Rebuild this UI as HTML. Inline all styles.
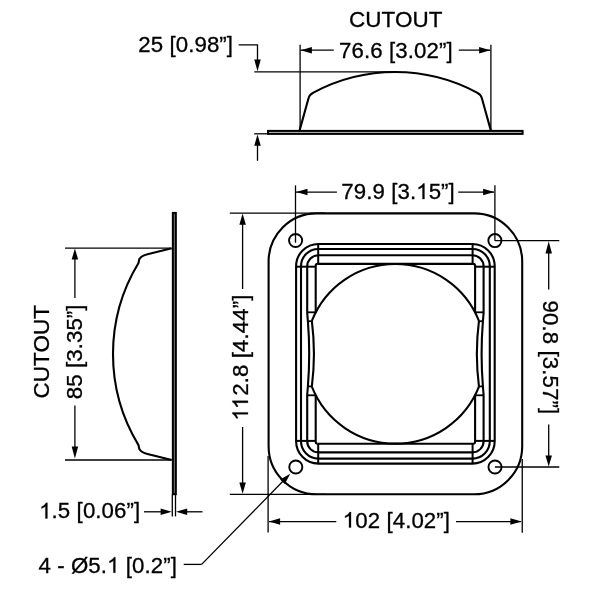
<!DOCTYPE html>
<html><head><meta charset="utf-8"><title>Dimension drawing</title>
<style>
html,body{margin:0;padding:0;background:#fff;}
body{width:600px;height:600px;overflow:hidden;}
svg{display:block;will-change:transform;filter:grayscale(1);}
tspan.h{fill:none;stroke:none;}
text{font-family:"Liberation Sans",sans-serif;fill:#000;letter-spacing:0.1px;stroke:#000;stroke-width:0.3px;}
</style></head><body>
<svg width="600" height="600" viewBox="0 0 600 600">
<rect width="600" height="600" fill="#fff"/>
<rect x="268.0" y="130.9" width="254.60" height="3.0" fill="#bbb" stroke="#000" stroke-width="2.0"/>
<path d="M299.60,130.4 L308.60,98 Q309.20,95 313.40,92.60 A172.7,172.7 0 0 1 477.00,92.60 Q481.20,95 481.80,98 L490.80,130.4" fill="none" stroke="#000" stroke-width="2.1" stroke-linejoin="round" stroke-linecap="butt"/>
<line x1="300.10" y1="44.80" x2="300.10" y2="130.00" stroke="#000" stroke-width="1.3" stroke-linecap="butt"/>
<line x1="490.90" y1="44.80" x2="490.90" y2="130.00" stroke="#000" stroke-width="1.3" stroke-linecap="butt"/>
<line x1="254.30" y1="71.80" x2="398.00" y2="71.80" stroke="#000" stroke-width="1.3" stroke-linecap="butt"/>
<line x1="254.20" y1="133.80" x2="267.50" y2="133.80" stroke="#000" stroke-width="1.3" stroke-linecap="butt"/>
<line x1="300.50" y1="50.20" x2="333.80" y2="50.20" stroke="#000" stroke-width="1.3" stroke-linecap="butt"/>
<polygon points="300.70,50.20 311.90,46.95 311.90,53.45" fill="#000"/>
<line x1="458.80" y1="50.20" x2="490.40" y2="50.20" stroke="#000" stroke-width="1.3" stroke-linecap="butt"/>
<polygon points="490.30,50.20 479.10,53.45 479.10,46.95" fill="#000"/>
<path d="M238.7,44.9 L257.5,44.9 L257.5,62" fill="none" stroke="#000" stroke-width="1.3" stroke-linejoin="miter" stroke-linecap="butt"/>
<polygon points="257.50,71.20 254.25,59.60 260.75,59.60" fill="#000"/>
<line x1="257.50" y1="160.80" x2="257.50" y2="144.00" stroke="#000" stroke-width="1.3" stroke-linecap="butt"/>
<polygon points="257.50,134.50 260.75,145.70 254.25,145.70" fill="#000"/>
<g transform="translate(349.00 27.40) scale(1.02 1)"><text id="t0" font-size="22.0">CUTOUT</text></g>
<g transform="translate(339.10 57.90) scale(1.03 1)"><text id="t1" font-size="21.6">76.6 [3.02”]</text></g>
<g transform="translate(138.20 52.30) scale(1.03 1)"><text id="t2" font-size="21.6">25 [0.98”]</text></g>
<rect x="172.85" y="212.9" width="3.0" height="281.30" fill="#777" stroke="#000" stroke-width="2.0"/>
<path d="M171.8,248.15 L147.5,254.15 Q141.3,255.75 139.3,259.15 L138.5,262.95 A175.48,175.48 0 0 0 138.5,445.15 L139.3,448.95 Q141.3,452.35 147.5,453.95 L171.8,459.95" fill="none" stroke="#000" stroke-width="2.1" stroke-linejoin="round" stroke-linecap="butt"/>
<line x1="65.00" y1="248.10" x2="170.70" y2="248.10" stroke="#000" stroke-width="1.3" stroke-linecap="butt"/>
<line x1="65.00" y1="460.00" x2="170.70" y2="460.00" stroke="#000" stroke-width="1.3" stroke-linecap="butt"/>
<line x1="74.90" y1="298.00" x2="74.90" y2="258.00" stroke="#000" stroke-width="1.3" stroke-linecap="butt"/>
<polygon points="74.90,248.40 78.15,259.60 71.65,259.60" fill="#000"/>
<line x1="74.90" y1="405.50" x2="74.90" y2="448.00" stroke="#000" stroke-width="1.3" stroke-linecap="butt"/>
<polygon points="74.90,458.60 71.65,446.60 78.15,446.60" fill="#000"/>
<g transform="translate(82.40 399.30) rotate(-90) scale(1.03 1)"><text id="t3" font-size="21.6">85 [3.35”]</text></g>
<g transform="translate(48.60 398.50) rotate(-90) scale(1.02 1)"><text id="t4" font-size="22.0">CUTOUT</text></g>
<line x1="172.30" y1="494.50" x2="172.30" y2="516.40" stroke="#000" stroke-width="1.3" stroke-linecap="butt"/>
<line x1="175.50" y1="494.50" x2="175.50" y2="516.40" stroke="#000" stroke-width="1.3" stroke-linecap="butt"/>
<line x1="144.00" y1="511.80" x2="162.00" y2="511.80" stroke="#000" stroke-width="1.3" stroke-linecap="butt"/>
<polygon points="171.80,511.80 160.60,515.05 160.60,508.55" fill="#000"/>
<line x1="202.50" y1="511.80" x2="186.00" y2="511.80" stroke="#000" stroke-width="1.3" stroke-linecap="butt"/>
<polygon points="176.00,511.80 187.20,508.55 187.20,515.05" fill="#000"/>
<g transform="translate(39.10 518.40) scale(1.03 1)"><text id="t5" font-size="21.6"><tspan class="h">1</tspan>.5 [0.06”]</text><path transform="translate(0.000 0) scale(21.6)" d="M0.3726,0 L0.2847,0 L0.2847,-0.5601 Q0.2529,-0.5298 0.2014,-0.4995 Q0.1499,-0.4692 0.1089,-0.4541 L0.1089,-0.5391 Q0.1826,-0.5737 0.2378,-0.6230 Q0.2930,-0.6724 0.3159,-0.7188 L0.3726,-0.7188 Z" fill="#000" stroke="#000" stroke-width="0.0139"/></g>
<g transform="translate(38.40 572.70) scale(1.03 1)"><text id="t6" font-size="21.6">4 - Ø5.<tspan class="h">1</tspan> [0.2”]</text><path transform="translate(66.649 0) scale(21.6)" d="M0.3726,0 L0.2847,0 L0.2847,-0.5601 Q0.2529,-0.5298 0.2014,-0.4995 Q0.1499,-0.4692 0.1089,-0.4541 L0.1089,-0.5391 Q0.1826,-0.5737 0.2378,-0.6230 Q0.2930,-0.6724 0.3159,-0.7188 L0.3726,-0.7188 Z" fill="#000" stroke="#000" stroke-width="0.0139"/></g>
<line x1="183.70" y1="564.40" x2="201.60" y2="564.40" stroke="#000" stroke-width="1.3" stroke-linecap="butt"/>
<line x1="201.60" y1="564.40" x2="287.30" y2="476.80" stroke="#000" stroke-width="1.3" stroke-linecap="butt"/>
<polygon points="290.30,473.70 284.79,483.98 280.15,479.44" fill="#000"/>
<rect x="268.60" y="213.40" width="253.60" height="280.80" rx="48" ry="48" fill="none" stroke="#000" stroke-width="2.1"/>
<rect x="296.10" y="244.00" width="198.60" height="219.60" rx="22.3" ry="22.3" fill="none" stroke="#000" stroke-width="2.1"/>
<rect x="301.00" y="249.00" width="188.80" height="209.60" rx="17.3" ry="17.3" fill="none" stroke="#000" stroke-width="2.1"/>
<path d="M317.70,263.90 Q315.70,263.90 315.70,265.90 L315.70,312.42" fill="none" stroke="#000" stroke-width="2.1" stroke-linejoin="round" stroke-linecap="butt"/>
<path d="M317.70,443.70 Q315.70,443.70 315.70,441.70 L315.70,395.18" fill="none" stroke="#000" stroke-width="2.1" stroke-linejoin="round" stroke-linecap="butt"/>
<path d="M311.84,320.90 Q316.04,353.80 311.84,386.70" fill="none" stroke="#000" stroke-width="2.1" stroke-linejoin="round" stroke-linecap="butt"/>
<path d="M395.00,255.20 L318.40,255.20 A11.2,11.2 0 0 0 307.20,266.40 L307.20,312.82 L307.90,321.30 Q310.50,353.80 307.90,386.30 L307.20,394.78 L307.20,441.20 A11.2,11.2 0 0 0 318.40,452.40 L395.00,452.40" fill="none" stroke="#000" stroke-width="2.1" stroke-linejoin="round" stroke-linecap="butt"/>
<path d="M307.20,312.30 L316.00,312.30" fill="none" stroke="#000" stroke-width="1.8" stroke-linejoin="round" stroke-linecap="butt"/>
<path d="M307.90,321.20 L311.84,321.20" fill="none" stroke="#000" stroke-width="1.8" stroke-linejoin="round" stroke-linecap="butt"/>
<path d="M318.20,244.00 L318.20,263.90" fill="none" stroke="#000" stroke-width="2.0" stroke-linejoin="round" stroke-linecap="butt"/>
<path d="M296.10,266.70 L315.70,266.70" fill="none" stroke="#000" stroke-width="2.0" stroke-linejoin="round" stroke-linecap="butt"/>
<path d="M307.20,395.30 L316.00,395.30" fill="none" stroke="#000" stroke-width="1.8" stroke-linejoin="round" stroke-linecap="butt"/>
<path d="M307.90,386.40 L311.84,386.40" fill="none" stroke="#000" stroke-width="1.8" stroke-linejoin="round" stroke-linecap="butt"/>
<path d="M318.20,463.60 L318.20,443.70" fill="none" stroke="#000" stroke-width="2.0" stroke-linejoin="round" stroke-linecap="butt"/>
<path d="M296.10,440.90 L315.70,440.90" fill="none" stroke="#000" stroke-width="2.0" stroke-linejoin="round" stroke-linecap="butt"/>
<path d="M473.10,263.90 Q475.10,263.90 475.10,265.90 L475.10,312.42" fill="none" stroke="#000" stroke-width="2.1" stroke-linejoin="round" stroke-linecap="butt"/>
<path d="M473.10,443.70 Q475.10,443.70 475.10,441.70 L475.10,395.18" fill="none" stroke="#000" stroke-width="2.1" stroke-linejoin="round" stroke-linecap="butt"/>
<path d="M478.96,320.90 Q474.76,353.80 478.96,386.70" fill="none" stroke="#000" stroke-width="2.1" stroke-linejoin="round" stroke-linecap="butt"/>
<path d="M395.00,255.20 L472.40,255.20 A11.2,11.2 0 0 1 483.60,266.40 L483.60,312.82 L482.90,321.30 Q480.30,353.80 482.90,386.30 L483.60,394.78 L483.60,441.20 A11.2,11.2 0 0 1 472.40,452.40 L395.00,452.40" fill="none" stroke="#000" stroke-width="2.1" stroke-linejoin="round" stroke-linecap="butt"/>
<path d="M483.60,312.30 L474.80,312.30" fill="none" stroke="#000" stroke-width="1.8" stroke-linejoin="round" stroke-linecap="butt"/>
<path d="M482.90,321.20 L478.96,321.20" fill="none" stroke="#000" stroke-width="1.8" stroke-linejoin="round" stroke-linecap="butt"/>
<path d="M472.60,244.00 L472.60,263.90" fill="none" stroke="#000" stroke-width="2.0" stroke-linejoin="round" stroke-linecap="butt"/>
<path d="M494.70,266.70 L475.10,266.70" fill="none" stroke="#000" stroke-width="2.0" stroke-linejoin="round" stroke-linecap="butt"/>
<path d="M483.60,395.30 L474.80,395.30" fill="none" stroke="#000" stroke-width="1.8" stroke-linejoin="round" stroke-linecap="butt"/>
<path d="M482.90,386.40 L478.96,386.40" fill="none" stroke="#000" stroke-width="1.8" stroke-linejoin="round" stroke-linecap="butt"/>
<path d="M472.60,463.60 L472.60,443.70" fill="none" stroke="#000" stroke-width="2.0" stroke-linejoin="round" stroke-linecap="butt"/>
<path d="M494.70,440.90 L475.10,440.90" fill="none" stroke="#000" stroke-width="2.0" stroke-linejoin="round" stroke-linecap="butt"/>
<path d="M317.70,263.90 L473.10,263.90" fill="none" stroke="#000" stroke-width="2.1" stroke-linejoin="round" stroke-linecap="butt"/>
<path d="M317.70,443.70 L473.10,443.70" fill="none" stroke="#000" stroke-width="2.1" stroke-linejoin="round" stroke-linecap="butt"/>
<path d="M311.84,320.90 A89.8,89.8 0 0 1 478.96,320.90" fill="none" stroke="#000" stroke-width="2.1" stroke-linejoin="round" stroke-linecap="butt"/>
<path d="M311.84,386.70 A89.8,89.8 0 0 0 478.96,386.70" fill="none" stroke="#000" stroke-width="2.1" stroke-linejoin="round" stroke-linecap="butt"/>
<circle cx="295.6" cy="240.5" r="6.55" fill="none" stroke="#000" stroke-width="1.9"/>
<circle cx="494.9" cy="240.6" r="6.55" fill="none" stroke="#000" stroke-width="1.9"/>
<circle cx="295.8" cy="467.0" r="6.55" fill="none" stroke="#000" stroke-width="1.9"/>
<circle cx="495.0" cy="467.0" r="6.55" fill="none" stroke="#000" stroke-width="1.9"/>
<line x1="295.50" y1="185.30" x2="295.50" y2="242.70" stroke="#000" stroke-width="1.3" stroke-linecap="butt"/>
<line x1="494.90" y1="185.30" x2="494.90" y2="240.70" stroke="#000" stroke-width="1.3" stroke-linecap="butt"/>
<line x1="296.00" y1="192.10" x2="336.90" y2="192.10" stroke="#000" stroke-width="1.3" stroke-linecap="butt"/>
<polygon points="296.30,192.10 307.50,188.85 307.50,195.35" fill="#000"/>
<line x1="458.20" y1="192.10" x2="494.00" y2="192.10" stroke="#000" stroke-width="1.3" stroke-linecap="butt"/>
<polygon points="494.30,192.10 483.10,195.35 483.10,188.85" fill="#000"/>
<g transform="translate(341.20 199.00) scale(1.03 1)"><text id="t7" font-size="21.6">79.9 [3.<tspan class="h">1</tspan>5”]</text><path transform="translate(72.775 0) scale(21.6)" d="M0.3726,0 L0.2847,0 L0.2847,-0.5601 Q0.2529,-0.5298 0.2014,-0.4995 Q0.1499,-0.4692 0.1089,-0.4541 L0.1089,-0.5391 Q0.1826,-0.5737 0.2378,-0.6230 Q0.2930,-0.6724 0.3159,-0.7188 L0.3726,-0.7188 Z" fill="#000" stroke="#000" stroke-width="0.0139"/></g>
<line x1="494.90" y1="240.60" x2="559.30" y2="240.60" stroke="#000" stroke-width="1.3" stroke-linecap="butt"/>
<line x1="494.90" y1="467.00" x2="559.30" y2="467.00" stroke="#000" stroke-width="1.3" stroke-linecap="butt"/>
<line x1="548.70" y1="251.00" x2="548.70" y2="289.60" stroke="#000" stroke-width="1.3" stroke-linecap="butt"/>
<polygon points="548.70,241.20 551.95,253.40 545.45,253.40" fill="#000"/>
<line x1="548.70" y1="424.40" x2="548.70" y2="458.00" stroke="#000" stroke-width="1.3" stroke-linecap="butt"/>
<polygon points="548.70,466.60 545.45,455.40 551.95,455.40" fill="#000"/>
<g transform="translate(543.40 300.50) rotate(90) scale(1.03 1)"><text id="t8" font-size="21.6">90.8 [3.57”]</text></g>
<line x1="229.80" y1="213.15" x2="325.40" y2="213.15" stroke="#000" stroke-width="1.3" stroke-linecap="butt"/>
<line x1="229.80" y1="494.40" x2="325.40" y2="494.40" stroke="#000" stroke-width="1.3" stroke-linecap="butt"/>
<line x1="242.60" y1="289.00" x2="242.60" y2="223.00" stroke="#000" stroke-width="1.3" stroke-linecap="butt"/>
<polygon points="242.60,213.50 245.85,224.70 239.35,224.70" fill="#000"/>
<line x1="242.60" y1="427.00" x2="242.60" y2="484.00" stroke="#000" stroke-width="1.3" stroke-linecap="butt"/>
<polygon points="242.60,493.70 239.35,482.50 245.85,482.50" fill="#000"/>
<g transform="translate(247.90 420.70) rotate(-90) scale(1.03 1)"><text id="t9" font-size="21.6"><tspan class="h">1</tspan><tspan class="h">1</tspan>2.8 [4.44”]</text><path transform="translate(0.000 0) scale(21.6)" d="M0.3726,0 L0.2847,0 L0.2847,-0.5601 Q0.2529,-0.5298 0.2014,-0.4995 Q0.1499,-0.4692 0.1089,-0.4541 L0.1089,-0.5391 Q0.1826,-0.5737 0.2378,-0.6230 Q0.2930,-0.6724 0.3159,-0.7188 L0.3726,-0.7188 Z" fill="#000" stroke="#000" stroke-width="0.0139"/><path transform="translate(11.298 0) scale(21.6)" d="M0.3726,0 L0.2847,0 L0.2847,-0.5601 Q0.2529,-0.5298 0.2014,-0.4995 Q0.1499,-0.4692 0.1089,-0.4541 L0.1089,-0.5391 Q0.1826,-0.5737 0.2378,-0.6230 Q0.2930,-0.6724 0.3159,-0.7188 L0.3726,-0.7188 Z" fill="#000" stroke="#000" stroke-width="0.0139"/></g>
<line x1="268.10" y1="456.00" x2="268.10" y2="532.50" stroke="#000" stroke-width="1.3" stroke-linecap="butt"/>
<line x1="522.25" y1="459.00" x2="522.25" y2="532.80" stroke="#000" stroke-width="1.3" stroke-linecap="butt"/>
<line x1="269.00" y1="521.60" x2="336.30" y2="521.60" stroke="#000" stroke-width="1.3" stroke-linecap="butt"/>
<polygon points="268.90,521.60 280.10,518.35 280.10,524.85" fill="#000"/>
<line x1="456.00" y1="521.60" x2="521.00" y2="521.60" stroke="#000" stroke-width="1.3" stroke-linecap="butt"/>
<polygon points="521.60,521.60 510.40,524.85 510.40,518.35" fill="#000"/>
<g transform="translate(342.70 527.60) scale(1.03 1)"><text id="t10" font-size="21.6"><tspan class="h">1</tspan>02 [4.02”]</text><path transform="translate(0.000 0) scale(21.6)" d="M0.3726,0 L0.2847,0 L0.2847,-0.5601 Q0.2529,-0.5298 0.2014,-0.4995 Q0.1499,-0.4692 0.1089,-0.4541 L0.1089,-0.5391 Q0.1826,-0.5737 0.2378,-0.6230 Q0.2930,-0.6724 0.3159,-0.7188 L0.3726,-0.7188 Z" fill="#000" stroke="#000" stroke-width="0.0139"/></g>
</svg>
</body></html>
